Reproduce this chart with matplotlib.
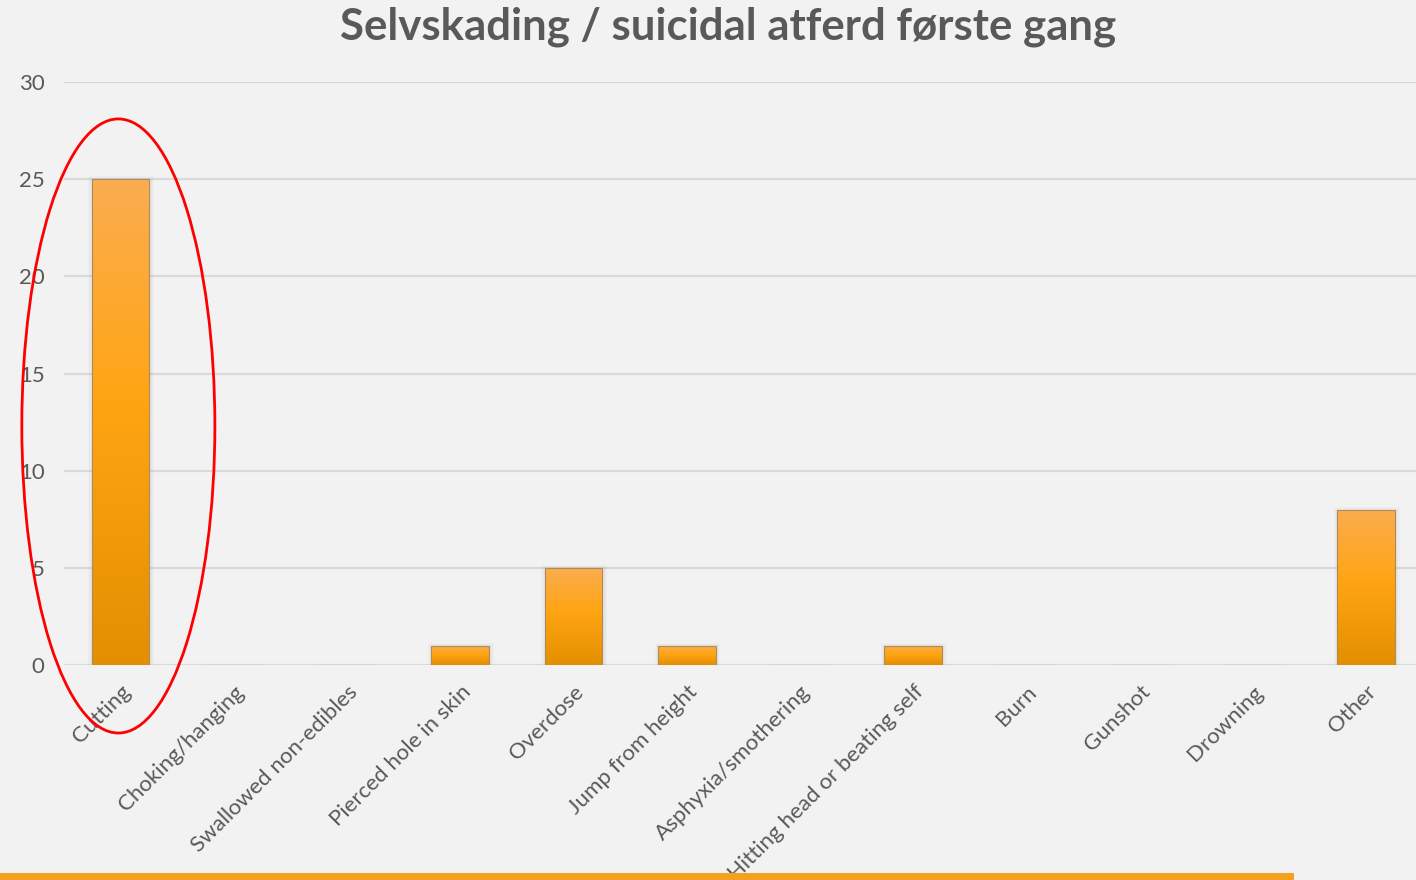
import numpy as np
import matplotlib.pyplot as plt
from matplotlib.colors import LinearSegmentedColormap
from matplotlib.patches import Ellipse, Rectangle

# Self-harm methods, first occurrence
categories = ['Cutting', 'Choking/hanging', 'Swallowed non-edibles',
              'Pierced hole in skin', 'Overdose', 'Jump from height',
              'Asphyxia/smothering', 'Hitting head or beating self',
              'Burn', 'Gunshot', 'Drowning', 'Other']
counts = [25, 0, 0, 1, 5, 1, 0, 1, 0, 0, 0, 8]
yticks = [0, 5, 10, 15, 20, 25, 30]

plt.rcParams['font.family'] = ['Lato', 'DejaVu Sans']

bg = '#f2f2f2'
text_col = '#595959'
grad = LinearSegmentedColormap.from_list(
    'bar', [(0.0, '#e38f00'), (0.55, '#ffa514'), (1.0, '#fbad50')])

fig = plt.figure(figsize=(14.16, 8.8), dpi=100, facecolor=bg)
ax = fig.add_axes([64 / 1416, 215 / 880, (1416 - 64) / 1416, 583 / 880])
ax.set_facecolor(bg)

x = np.arange(len(categories))
width = 0.51
bars = ax.bar(x, counts, width=width, color='none', edgecolor='#b08a5a',
              linewidth=0.8, zorder=3)

# vertical gradient + soft shadow for each bar
g = np.linspace(0, 1, 256).reshape(-1, 1)
for b, v in zip(bars, counts):
    if v <= 0:
        continue
    x0 = b.get_x()
    for k, a in enumerate([0.05, 0.04, 0.03]):
        ax.add_patch(Rectangle((x0 - 0.01 * (k + 1), 0), width + 0.02 * (k + 1) + 0.01,
                               v + 0.05 * (k + 1), color='#7f7f7f', alpha=a,
                               lw=0, zorder=2))
    im = ax.imshow(g, cmap=grad, origin='lower', aspect='auto',
                   extent=[x0, x0 + width, 0, v], zorder=2.5)
    im.set_clip_path(b)

ax.set_xlim(-0.5, (1416 - 121) / 113.2)
ax.set_ylim(0, 30)
ax.set_yticks(yticks)
ax.yaxis.grid(True, color='#d9d9d9', linewidth=1.6, zorder=0)
ax.set_axisbelow(True)
for s in ax.spines.values():
    s.set_visible(False)
ax.tick_params(axis='both', length=0, colors=text_col, labelsize=16)
ax.tick_params(axis='y', pad=14)
ax.set_xticks(x)
ax.set_xticklabels(categories, rotation=45, ha='right', rotation_mode='anchor')
ax.tick_params(axis='x', pad=12)

# highlight around the first category
ax.add_patch(Ellipse((-0.02, 12.3), 1.705, 31.6, fill=False, edgecolor='#ff0000',
                     linewidth=2, zorder=5, clip_on=False))

fig.text(728 / 1416, 1 - 27 / 880, 'Selvskading / suicidal atferd første gang',
         ha='center', va='center', fontsize=31.5, fontweight='bold', color=text_col)

# orange strip along the bottom edge
fig.add_artist(Rectangle((0, 0), 1294 / 1416, 7 / 880, transform=fig.transFigure,
                         color='#f5a11f', lw=0))

fig.savefig('out.png', dpi=100, facecolor=bg)
